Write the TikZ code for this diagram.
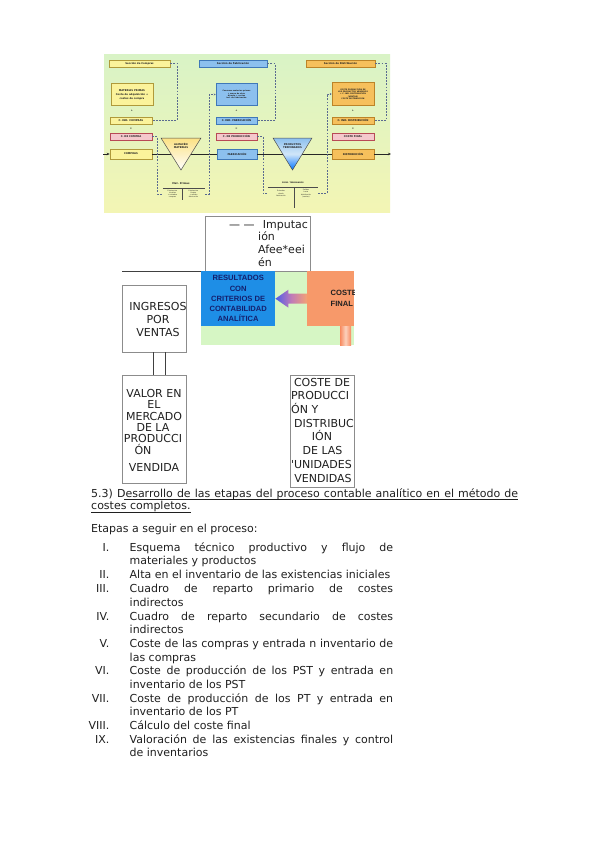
\documentclass[tikz,border=0pt]{standalone}
\usepackage{fontspec}
\setmainfont{DejaVu Sans}
\newfontfamily\arialb{Liberation Sans}
\newfontfamily\plaindv[Mapping=]{DejaVu Sans}
\usetikzlibrary{calc,arrows.meta}
\definecolor{ybox}{HTML}{FBF39B}
\definecolor{ybord}{HTML}{B09A3A}
\definecolor{bbox}{HTML}{8CC0EE}
\definecolor{bbord}{HTML}{3F78B8}
\definecolor{obox}{HTML}{F6C05C}
\definecolor{obord}{HTML}{BC8428}
\definecolor{pbox}{HTML}{F5C8CC}
\definecolor{pbord}{HTML}{B84A56}
\definecolor{bgtop}{HTML}{D9F3C6}
\definecolor{bgbot}{HTML}{F3F5B4}
\definecolor{dashc}{HTML}{5A6A90}
\definecolor{greenbg}{HTML}{D6F6C4}
\definecolor{resblue}{HTML}{1E8EE6}
\definecolor{resnavy}{HTML}{14206E}
\definecolor{cforange}{HTML}{F7996A}
\definecolor{arrblue}{HTML}{4E5CE8}
\definecolor{arrmid}{HTML}{C07AB8}
\definecolor{arrorange}{HTML}{F3A274}
\definecolor{boxgray}{HTML}{8C8C8C}
\definecolor{ink}{HTML}{202020}
\tikzset{
  tiny/.style={font=\fontsize{2.5}{3.1}\selectfont\bfseries, text=ink, align=center, inner sep=0pt},
  tinier/.style={font=\fontsize{1.9}{2.4}\selectfont\bfseries, text=ink, align=center, inner sep=0pt},
  tb/.style={tiny, line width=0.6pt, minimum width=42, minimum height=7},
  yb/.style={tb, draw=ybord, fill=ybox},
  bb/.style={tb, draw=bbord, fill=bbox},
  ob/.style={tb, draw=obord, fill=obox},
  pb/.style={tb, draw=pbord, fill=pbox},
  dl/.style={draw=dashc, dash pattern=on 1.8pt off 1.3pt, line width=0.5pt},
  mainline/.style={draw=black!85, line width=0.7pt},
  tabline/.style={draw=black!70, line width=0.35pt},
  box/.style={draw=boxgray, line width=0.9pt, inner sep=0pt, fill=white},
  txt/.style={font=\fontsize{11}{13}\selectfont, text=ink, inner sep=0pt},
  btxt/.style={font=\fontsize{11}{13}\selectfont, text=ink, inner sep=0pt, anchor=base},
  uline/.style={draw=ink, line width=0.6pt},
}
\begin{document}
\begin{tikzpicture}[x=1pt,y=-1pt]
\fill[white] (0,0) rectangle (599,848);
\useasboundingbox (0,0) rectangle (599,848);

% ---------------- top embedded picture ----------------
\path[top color=bgtop, bottom color=bgbot] (104,55) rectangle (390,212);

\node[yb, minimum width=61] (secC) at (139.5,63.5) {Sección de Compras};
\node[bb, minimum width=68] (secF) at (233,63.5) {Sección de Fabricación};
\node[ob, minimum width=69] (secD) at (340.5,63.5) {Sección de Distribución};

\node[yb, minimum height=22] (mpC) at (132,94.5) {MATERIAS PRIMAS\\[1.5pt] Coste de adquisición +\\ costes de compra};
\node[tiny] (plC) at (132,111) {+};
\node[yb] (ccomp) at (131,120.5) {C. IND. COMPRAS};
\node[tiny] (eqC) at (131,129) {=};
\node[pb] (cdc) at (131,136.5) {C. DE COMPRA};
\node[yb, minimum height=10] (compras) at (131,154) {COMPRAS};

\node[bb, minimum width=41, minimum height=22, tinier] (bup) at (236.5,94.5) {Consumo materias primas\\ + mano de obra\\ directa + costes\\ ind. de fabricación};
\node[tiny] (plF) at (236.5,111) {+};
\node[bb, minimum width=41] (cfab) at (236.5,120.5) {C. IND. FABRICACIÓN};
\node[tiny] (eqF) at (236.5,129) {=};
\node[pb, minimum width=41] (cprod) at (236.5,136.5) {C. DE PRODUCCIÓN};
\node[bb, minimum width=40, minimum height=10] (fab) at (237,154) {FABRICACIÓN};

\node[ob, minimum width=42, minimum height=23, tinier] (oup) at (353,94) {COSTE PRODUCCIÓN DE\\ LOS PRODUCTOS VENDIDOS\\ + C. IND. DISTRIBUCIÓN\\ (VENTAS)\\ COSTE DISTRIBUCIÓN};
\node[tiny] (plD) at (353,111) {+};
\node[ob] (cdist) at (353,120.5) {C. IND. DISTRIBUCIÓN};
\node[tiny] (eqD) at (353,129) {=};
\node[pb] (cfin) at (353,136.5) {COSTE FINAL};
\node[ob, minimum height=10] (distr) at (353,154) {DISTRIBUCIÓN};

% main flow line
\coordinate (mainS) at (103,154);
\coordinate (mainE) at (391,154);
\coordinate (t1l) at (171,154);
\coordinate (t1r) at (191,154);
\coordinate (t2l) at (282.8,154);
\coordinate (t2r) at (302.2,154);
\draw[mainline, -{Stealth[length=3pt,width=2.5pt]}] (mainS) -- (compras.west);
\draw[mainline] (compras.east) -- (t1l);
\draw[mainline] (t1r) -- (fab.west);
\draw[mainline] (fab.east) -- (t2l);
\draw[mainline] (t2r) -- (distr.west);
\draw[mainline, -{Stealth[length=3pt,width=2.5pt]}] (distr.east) -- (mainE);

% triangles (stores)
\path[draw=black!70, line width=0.5pt, top color=ybox!85!orange, bottom color=white] (161,138) -- (201,138) -- (181,170) -- cycle;
\node[tiny] (t1) at (181,146) {ALMACÉN\\MATERIAS};
\path[draw=black!70, line width=0.5pt, top color=bbox, bottom color=blue!55!cyan, middle color=bbox!40!white] (273,138) -- (312,138) -- (292.5,170) -- cycle;
\node[tiny] (t2) at (292.5,146) {PRODUCTOS\\TERMINADOS};

% small tables below stores
\node[tiny] (mpT) at (181,184) {Mat. Primas};
\node[minimum width=42, minimum height=12, inner sep=0pt] (tab1) at (184,194) {};
\draw[tabline] (tab1.north west) -- (tab1.north east);
\draw[tabline] ([xshift=-2pt]tab1.north) -- ([xshift=-2pt]tab1.south);
\node[tinier, font=\fontsize{1.7}{2.2}\selectfont] (c11) at (172.5,194) {Existencias\\ iniciales\\ + entradas\\ compras};
\node[tinier, font=\fontsize{1.7}{2.2}\selectfont] (c12) at (193.5,194) {Existencias\\ finales\\ + salidas\\ fabricación};

\node[tinier] (ptT) at (293,183) {PROD. TERMINADOS};
\node[minimum width=50, minimum height=13, inner sep=0pt] (tab2) at (293,193.5) {};
\draw[tabline] (tab2.north west) -- (tab2.north east);
\draw[tabline] ([xshift=1.5pt]tab2.north) -- ([xshift=1.5pt]tab2.south) -- ++(0,8);
\node[tinier, font=\fontsize{1.7}{2.2}\selectfont] (c21) at (281,193.5) {Entradas\\ desde\\ fabricación};
\node[tinier, font=\fontsize{1.7}{2.2}\selectfont] (c22) at (306,193.5) {Salidas\\ hacia\\ distribución\\ (ventas)};

% dashed imputation connectors
\draw[dl] (secC.east) -- ++(7,0) |- (ccomp.east);
\draw[dl] (secF.east) -- ++(8,0) |- (cfab.east);
\draw[dl] (secD.east) -- ++(11,0) |- (cdist.east);
\draw[dl] (cdc.east) -- ++(5,0) |- (tab1.west);
\draw[dl, -{Stealth[length=2pt,width=2pt]}] (tab1.east) -- ++(4,0) |- (bup.west);
\draw[dl] (cprod.east) -- ++(6,0) |- (tab2.west);
\draw[dl, -{Stealth[length=2pt,width=2pt]}] (tab2.east) -- ++(9,0) |- (oup.west);

% ---------------- middle part ----------------
\fill[greenbg] (201,271) rectangle (354,345);

\node[box, minimum width=105, minimum height=55, anchor=north west] (imp) at (205,216) {};
\node[txt, anchor=base west] (impd) at (229,228.3) {— —};
\node[txt, anchor=base west] (imp1) at (262.7,228.3) {Imputac};
\node[txt, anchor=base west] (imp2) at (258,240.5) {ión};
\node[txt, anchor=base west] (imp3) at (258,253) {Afee*eei};
\node[txt, anchor=base west] (imp4) at (258,266) {én};

\node[fill=resblue, minimum width=74, minimum height=55, anchor=north west, inner sep=0pt,
      font=\arialb\bfseries\fontsize{7.6}{10.3}\selectfont, text=resnavy, align=center] (res) at (201,271)
      {RESULTADOS\\CON\\CRITERIOS DE\\CONTABILIDAD\\ANALÍTICA};
\node[fill=cforange, minimum width=47, minimum height=55, anchor=north west, inner sep=0pt] (cf) at (307,271) {};
\begin{scope}
  \clip (cf.north west) rectangle (cf.south east);
  \node[anchor=west, align=left, inner sep=0pt, font=\arialb\bfseries\fontsize{7.6}{11}\selectfont, text=ink] (cft) at (330.5,298.5) {COSTE\\FINAL};
\end{scope}
\path[left color=cforange!90!red, right color=cforange!90!red, middle color=cforange!45!white] (340,326) rectangle (351,345);

% gradient arrow from COSTE FINAL to RESULTADOS
\coordinate (tip) at (res.east);
\path[left color=arrblue, right color=arrorange, middle color=arrmid]
  (tip) -- ($(tip)+(13,-9)$) -- ($(tip)+(13,-5)$) -- ($(cf.west)+(0,-5)$)
  -- ($(cf.west)+(0,5)$) -- ($(tip)+(13,5)$) -- ($(tip)+(13,9)$) -- cycle;

\coordinate (hl) at (122,271);
\draw[black!75, line width=0.7pt] (hl) -- (res.north west);

% left boxes
\node[box, minimum width=64, minimum height=67] (ing) at (154,318.5) {};
\node[txt, align=center] (ingt) at (158,319) {INGRESOS\\POR\\VENTAS};

\node[box, minimum width=64, minimum height=108] (val) at (154,429) {};
\draw[black!75, line width=0.7pt] ([xshift=-1pt]ing.south) -- ([xshift=-1pt]val.north);
\draw[black!75, line width=0.7pt] ([xshift=11pt]ing.south) -- ([xshift=11pt]val.north);
\node[btxt] (v1) at (154,397) {VALOR EN};
\node[btxt] (v2) at (154,408) {EL};
\node[btxt] (v3) at (154,420) {MERCADO};
\node[btxt] (v4) at (153,431) {DE LA};
\node[btxt] (v5) at (153,442) {PRODUCCI};
\node[btxt] (v6) at (143,454) {ÓN};
\node[btxt] (v7) at (154,471) {VENDIDA};

\node[box, minimum width=64, minimum height=112] (cos) at (322,431) {};
\node[btxt] (k1) at (322,386) {COSTE DE};
\node[btxt, anchor=base west] (k2) at (290.8,399.5) {PRODUCCI};
\node[btxt, anchor=base west] (k3) at (291,413) {ÓN Y};
\node[btxt, anchor=base west] (k4) at (294,427) {DISTRIBUC};
\node[btxt] (k5) at (322,440.5) {IÓN};
\node[btxt] (k6) at (322.5,454) {DE LAS};
\node[btxt, anchor=base west] (k7) at (290.8,468) {{\plaindv\fontsize{11}{13}\selectfont '}UNIDADES};
\node[btxt] (k8) at (323,482) {VENDIDAS};

% ---------------- text part ----------------
\node[txt, anchor=base west] (h1) at (91,497.5) {\makebox[427pt][s]{5.3) Desarrollo de las etapas del proceso contable analítico en el método de}};
\draw[uline] ([xshift=33pt,yshift=-2.2pt]h1.base west) -- ([yshift=-2.2pt]h1.base east);
\node[txt, anchor=base west] (h2) at (91,509.5) {costes completos.};
\draw[uline] ([yshift=-2.5pt]h2.base west) -- ([yshift=-2.5pt]h2.base east);
\node[txt, anchor=base west] (h3) at (91,532.5) {Etapas a seguir en el proceso:};

\tikzset{num/.style={txt, anchor=base east}, lin/.style={txt, anchor=base west}}
\node[num] (n1) at (109.5,551.2) {I.};
\node[lin] (l1a) at (129.5,551.2) {\makebox[263.5pt][s]{Esquema técnico productivo y flujo de}};
\node[lin] (l1b) at (129.5,564.7) {materiales y productos};
\node[num] (n2) at (109.5,578.2) {II.};
\node[lin] (l2) at (129.5,578.2) {Alta en el inventario de las existencias iniciales};
\node[num] (n3) at (109.5,592.2) {III.};
\node[lin] (l3a) at (129.5,592.2) {\makebox[263.5pt][s]{Cuadro de reparto primario de costes}};
\node[lin] (l3b) at (129.5,606.2) {indirectos};
\node[num] (n4) at (109.5,620.2) {IV.};
\node[lin] (l4a) at (129.5,620.2) {\makebox[263.5pt][s]{Cuadro de reparto secundario de costes}};
\node[lin] (l4b) at (129.5,633.7) {indirectos};
\node[num] (n5) at (109.5,647.2) {V.};
\node[lin] (l5a) at (129.5,647.2) {\makebox[263.5pt][s]{Coste de las compras y entrada n inventario de}};
\node[lin] (l5b) at (129.5,661.2) {las compras};
\node[num] (n6) at (109.5,674.7) {VI.};
\node[lin] (l6a) at (129.5,674.7) {\makebox[263.5pt][s]{Coste de producción de los PST y entrada en}};
\node[lin] (l6b) at (129.5,688.2) {inventario de los PST};
\node[num] (n7) at (109.5,702.2) {VII.};
\node[lin] (l7a) at (129.5,702.2) {\makebox[263.5pt][s]{Coste de producción de los PT y entrada en}};
\node[lin] (l7b) at (129.5,715.7) {inventario de los PT};
\node[num] (n8) at (109.5,729.2) {VIII.};
\node[lin] (l8) at (129.5,729.2) {Cálculo del coste final};
\node[num] (n9) at (109.5,743.2) {IX.};
\node[lin] (l9a) at (129.5,743.2) {\makebox[263.5pt][s]{Valoración de las existencias finales y control}};
\node[lin] (l9b) at (129.5,756.7) {de inventarios};
\end{tikzpicture}
\end{document}
